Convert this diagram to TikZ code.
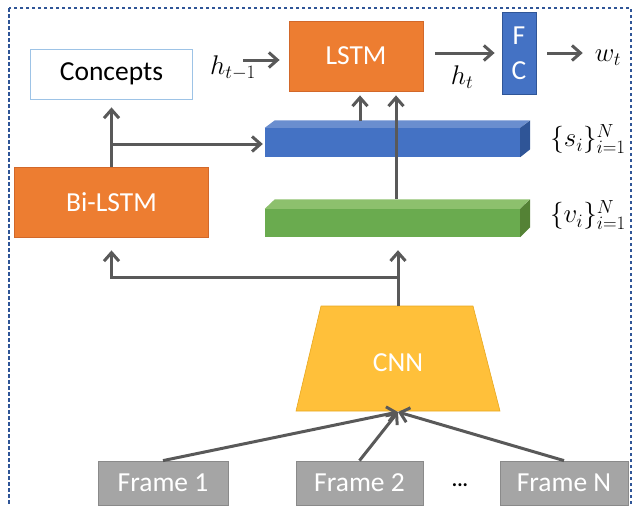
\RequirePackage{fix-cm}
\documentclass[tikz,border=0pt]{standalone}
\usepackage[no-math]{fontspec}
\setmainfont{Carlito}
\usetikzlibrary{arrows.meta}
\definecolor{cOr}{HTML}{ED7D31}
\definecolor{cOrD}{HTML}{D2682A}
\definecolor{cBl}{HTML}{4472C4}
\definecolor{cBlT}{HTML}{6A8ECF}
\definecolor{cBlS}{HTML}{2F5597}
\definecolor{cGr}{HTML}{6AAB4F}
\definecolor{cGrT}{HTML}{8DC06D}
\definecolor{cGrS}{HTML}{548235}
\definecolor{cYel}{HTML}{FFC03A}
\definecolor{cYelD}{HTML}{E8A820}
\definecolor{cGy}{HTML}{A5A5A5}
\definecolor{cGyD}{HTML}{8A8A8A}
\definecolor{cAr}{HTML}{595959}
\definecolor{cFrame}{HTML}{2F5597}
\definecolor{cLb}{HTML}{9DC3E6}
\begin{document}
\begin{tikzpicture}[x=1pt,y=-1pt,
  bigfont/.style={font=\fontsize{27.5}{32}\selectfont},
  mathfont/.style={font=\fontsize{27}{32}\selectfont},
  box/.style={draw, line width=0.8pt, inner sep=0pt, bigfont},
  orng/.style={box, fill=cOr, draw=cOrD, text=white},
  grybox/.style={box, fill=cGy, draw=cGyD, text=white, minimum height=44pt},
  arr/.style={draw=cAr, line width=3pt, -{Straight Barb[length=8.5pt,width=15pt]}},
  mlabel/.style={inner sep=0pt, mathfont},
  bar/.style={inner sep=0pt, minimum width=255pt}
]
\useasboundingbox (0,0) rectangle (633,506);
\draw[cFrame, line width=1.2pt, dash pattern=on 3.5pt off 2.5pt] (9,8) rectangle (631,530);

% top row
\node[box, draw=cLb, fill=white, minimum width=162pt, minimum height=50pt] (concepts) at (111.5,74) {Concepts};
\node[orng, minimum width=134pt, minimum height=70pt] (lstm) at (356,56) {LSTM};
\node[box, fill=cBl, draw=cBlS, text=white, minimum width=34pt, minimum height=82pt, align=center] (fc) at (519,53) {F\\[3pt]C};
\node[mlabel] (hprev) at (233,68) {$h_{t-1}$};
\node[mlabel] (ht) at (462,77) {$h_t$};
\node[mlabel] (wt) at (608,58) {$w_t$};

% bars
\node[bar, fill=cBl, minimum height=29pt] (sbar) at (392.5,142.5) {};
\fill[cBlT] (sbar.north west) -- ++(10,-7.5) -- ++(255,0) -- (sbar.north east) -- cycle;
\fill[cBlS] (sbar.north east) -- ++(10,-7.5) -- ++(0,29) -- (sbar.south east) -- cycle;
\node[bar, fill=cGr, minimum height=28pt] (vbar) at (392.5,223) {};
\fill[cGrT] (vbar.north west) -- ++(10,-9.5) -- ++(255,0) -- (vbar.north east) -- cycle;
\fill[cGrS] (vbar.north east) -- ++(10,-9.5) -- ++(0,28) -- (vbar.south east) -- cycle;
\node[mlabel] (slab) at (588,139) {$\{s_i\}_{i=1}^N$};
\node[mlabel] (vlab) at (588,215) {$\{v_i\}_{i=1}^N$};

\node[orng, minimum width=194pt, minimum height=70pt] (bilstm) at (111.5,202) {Bi-LSTM};

% CNN
\draw[fill=cYel, draw=cYelD, line width=0.6pt] (321,306) -- (473,306) -- (500,411) -- (296,411) -- cycle;
\node[bigfont, text=white] (cnn) at (398,363) {CNN};
\coordinate (cnntop) at (398,306);
\coordinate (cnnbot) at (398,412);

% frames
\node[grybox, minimum width=130pt] (f1) at (163,483) {Frame 1};
\node[grybox, minimum width=127pt] (f2) at (359.5,483) {Frame 2};
\node[grybox, minimum width=128pt] (fn) at (564,483) {Frame N};
\node[font=\fontsize{20}{24}\selectfont\bfseries] (dots) at (460,485) {...};

% connectors
\coordinate (hprevS) at (243,60);
\draw[arr, shorten >=9pt] (hprevS) -- (hprevS -| lstm.west);
\draw[arr, shorten <=12pt, shorten >=7pt] (fc.west -| lstm.east) -- (fc.west);
\draw[arr, shorten <=11pt, shorten >=12pt] (fc.east) -- (fc.east -| wt.west);

\coordinate (sUp) at (360,121);
\coordinate (vUp) at (396,199);
\draw[arr, shorten >=4pt] (sUp) -- (sUp |- lstm.south);
\draw[arr, shorten >=4pt] (vUp) -- (vUp |- lstm.south);

\coordinate (br1) at (111.5,144);
\draw[arr, shorten >=8pt] (bilstm.north) -- (concepts.south);
\draw[arr, shorten >=2pt] (br1) -- (br1 -| sbar.west);

\coordinate (br2) at (398,277);
\draw[arr, shorten >=13pt] (cnntop) -- (cnntop |- vbar.south);
\draw[arr, shorten >=13pt] (br2) -| (bilstm.south);

\draw[arr] (f1.north) -- (cnnbot);
\draw[arr] (f2.north) -- (cnnbot);
\draw[arr] (fn.north) -- (cnnbot);
\end{tikzpicture}
\end{document}
